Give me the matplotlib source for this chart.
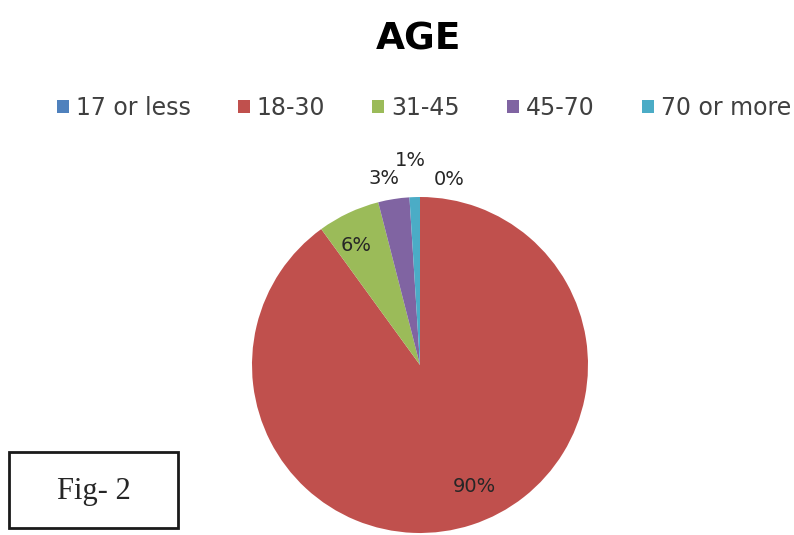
import matplotlib
matplotlib.use("Agg")
import matplotlib.pyplot as plt
from matplotlib.patches import Rectangle, Patch
import numpy as np

# Age distribution of respondents (percent)
categories = ["17 or less", "18-30", "31-45", "45-70", "70 or more"]
shares = [0, 90, 6, 3, 1]
colors = ["#4F81BD", "#C0504D", "#9BBB59", "#8064A2", "#4BACC6"]

# label placement per slice: (radius, angular nudge in degrees)
label_pos = [(1.12, -9), (0.79, 6), (0.81, 3), (1.13, 2), (1.22, 1)]

W, H = 794, 535
fig = plt.figure(figsize=(W / 100, H / 100), dpi=100)
fig.patch.set_facecolor("white")

cx, cy, r = 420, 365, 168
ax = fig.add_axes([(cx - r) / W, (H - cy - r) / H, 2 * r / W, 2 * r / H])

wedges, _ = ax.pie(shares, colors=colors, startangle=90, counterclock=False,
                   radius=1, wedgeprops=dict(linewidth=0))
ax.set_xlim(-1, 1)
ax.set_ylim(-1, 1)
ax.set_aspect("equal")
ax.axis("off")

total = float(sum(shares))
for w, v, (rad, nudge) in zip(wedges, shares, label_pos):
    mid = np.deg2rad((w.theta1 + w.theta2) / 2 + nudge)
    ax.text(rad * np.cos(mid), rad * np.sin(mid), f"{v / total * 100:.0f}%",
            ha="center", va="center", fontsize=14, color="#262626",
            clip_on=False)

# title
fig.text(419 / W, 1 - 40 / H, "AGE", ha="center", va="center",
         fontsize=27, fontweight="bold", color="black")

# legend across the top
handles = [Patch(facecolor=c, edgecolor="none") for c in colors]
fig.legend(handles, categories, loc="center", bbox_to_anchor=(424 / W, 1 - 108 / H),
           ncol=5, frameon=False, fontsize=17, labelcolor="#404040",
           handlelength=0.5, handleheight=0.5, handletextpad=0.3,
           columnspacing=2.0)

# figure caption box
fig.patches.append(Rectangle((9 / W, 1 - 528 / H), 169 / W, 76 / H,
                             transform=fig.transFigure, facecolor="white",
                             edgecolor="#1a1a1a", linewidth=2))
fig.text(94 / W, 1 - 491 / H, "Fig- 2", ha="center", va="center",
         fontsize=22, family="Liberation Serif", color="#262626")

fig.savefig("out.png", dpi=100)
